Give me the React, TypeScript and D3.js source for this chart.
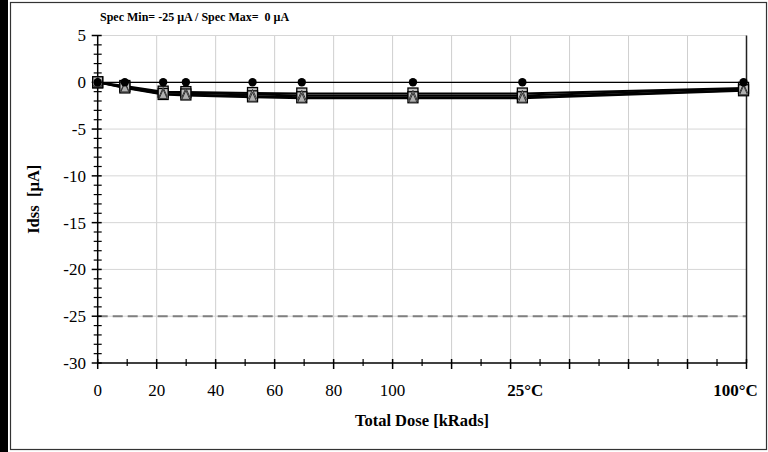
import React from "react";
import * as d3 from "d3";

const doses = [0, 9.2, 22.2, 29.9, 52.5, 69.2, 106.9, 144, 219];
const seriesCircle = [0, 0, 0, 0, 0, 0, 0, 0, 0];
const seriesSquareA = [0, -0.4, -1.0, -1.05, -1.15, -1.2, -1.2, -1.2, -0.6];
const seriesSquareB = [0, -0.55, -1.25, -1.3, -1.5, -1.6, -1.6, -1.6, -0.85];
const seriesTriA = [0, -0.5, -1.1, -1.15, -1.3, -1.4, -1.4, -1.4, -0.7];
const seriesTriB = [0, -0.6, -1.3, -1.4, -1.6, -1.7, -1.7, -1.7, -0.9];
const xTickLabels = ["0", "20", "40", "60", "80", "100"];
const xTickLabelValues = [0, 20, 40, 60, 80, 100];
const annealLabels = ["25°C", "100°C"];
const annealLabelValues = [145, 216.3];
const yTicks = [5, 0, -5, -10, -15, -20, -25, -30];
const specMin = -25;

const W = 768;
const H = 452;
const FONT = "Liberation Serif, Times New Roman, Times, serif";

export default function App() {
  const x = d3.scaleLinear().domain([0, 220]).range([97.7, 746.5]);
  const y = d3.scaleLinear().domain([-30, 5]).range([363, 35.5]);
  const line = d3
    .line<number>()
    .x((_, i) => x(doses[i]))
    .y((d) => y(d));

  const xMajor = d3.range(0, 221, 20);
  const xMinor = d3.range(10, 220, 20);
  const yMinor = d3.range(-30, 5.01, 1).filter((v) => v % 5 !== 0);

  const thickSeries = [seriesSquareA, seriesSquareB, seriesTriA, seriesTriB];
  const x0 = x(0);
  const yBase = y(-30);

  return (
    <svg
      width={W}
      height={H}
      style={{ position: "fixed", left: 0, top: 0, background: "#fff", fontFamily: FONT }}
    >
      <rect x={0} y={0} width={8} height={H} fill="#000" />
      <rect x={10.5} y={2.5} width={756} height={447} fill="none" stroke="#333" strokeWidth={1.2} />

      {/* gridlines */}
      {xMajor.slice(1, -1).map((v) => (
        <line key={"gx" + v} x1={x(v)} x2={x(v)} y1={y(5)} y2={yBase} stroke="#cfcfcf" strokeWidth={1} />
      ))}
      {yTicks.slice(0, -1).map((v) => (
        <line key={"gy" + v} x1={x0} x2={x(220)} y1={y(v)} y2={y(v)} stroke="#d6d6d6" strokeWidth={1} />
      ))}

      {/* spec min dashed */}
      <line
        x1={x0}
        x2={x(220)}
        y1={y(specMin)}
        y2={y(specMin)}
        stroke="#808080"
        strokeWidth={2}
        strokeDasharray="10,5"
      />

      {/* right border */}
      <line x1={x(220)} x2={x(220)} y1={y(5)} y2={yBase} stroke="#222" strokeWidth={1.5} />

      {/* axes */}
      <line x1={x0} x2={x0} y1={y(5)} y2={yBase} stroke="#000" strokeWidth={1.5} />
      <line x1={x0} x2={x(220)} y1={yBase} y2={yBase} stroke="#000" strokeWidth={1.5} />
      {yTicks.map((v) => (
        <g key={"yt" + v}>
          <line x1={x0 - 6} x2={x0 + 4} y1={y(v)} y2={y(v)} stroke="#000" strokeWidth={1.5} />
          <text x={86} y={y(v)} dy="0.35em" textAnchor="end" fontSize={17}>
            {v}
          </text>
        </g>
      ))}
      {yMinor.map((v) => (
        <line key={"ym" + v} x1={x0 - 4} x2={x0 + 4} y1={y(v)} y2={y(v)} stroke="#000" strokeWidth={1.2} />
      ))}
      {xMajor.map((v) => (
        <line key={"xt" + v} x1={x(v)} x2={x(v)} y1={yBase - 4} y2={yBase + 6} stroke="#000" strokeWidth={1.5} />
      ))}
      {xMinor.map((v) => (
        <line key={"xm" + v} x1={x(v)} x2={x(v)} y1={yBase - 4} y2={yBase + 3} stroke="#000" strokeWidth={1.2} />
      ))}
      {xTickLabels.map((t, i) => (
        <text key={"xl" + t} x={x(xTickLabelValues[i])} y={396} textAnchor="middle" fontSize={17}>
          {t}
        </text>
      ))}
      {annealLabels.map((t, i) => (
        <text
          key={"al" + t}
          x={x(annealLabelValues[i])}
          y={396}
          textAnchor="middle"
          fontSize={17}
          fontWeight="bold"
        >
          {t}
        </text>
      ))}

      {/* series lines */}
      {thickSeries.map((s, i) => (
        <path key={"l" + i} d={line(s) || ""} fill="none" stroke="#000" strokeWidth={2} />
      ))}
      <path d={line(seriesCircle) || ""} fill="none" stroke="#000" strokeWidth={1.2} />

      {/* markers */}
      {[seriesSquareA, seriesSquareB].map((s, si) =>
        s.map((v, i) => (
          <rect
            key={"sq" + si + "-" + i}
            x={x(doses[i]) - 5}
            y={y(v) - 5.5}
            width={10}
            height={11}
            fill="#c0c0c0"
            stroke="#000"
            strokeWidth={1.3}
          />
        ))
      )}
      {[seriesTriA, seriesTriB].map((s, si) =>
        s.map((v, i) => {
          const cx = x(doses[i]);
          const cy = y(v);
          return (
            <path
              key={"tr" + si + "-" + i}
              d={`M${cx},${cy - 5}L${cx + 4},${cy + 4}L${cx - 4},${cy + 4}Z`}
              fill="#b0b0b0"
              stroke="#333"
              strokeWidth={1}
            />
          );
        })
      )}
      {seriesCircle.map((v, i) => (
        <circle key={"c" + i} cx={x(doses[i])} cy={y(v)} r={4.2} fill="#000" />
      ))}

      {/* titles */}
      <text x={100} y={21} fontSize={12} fontWeight="bold" style={{ whiteSpace: "pre" }}>
        {"Spec Min= -25 µA / Spec Max=  0 µA"}
      </text>
      <text
        transform={`translate(39, ${(y(5) + yBase) / 2}) rotate(-90)`}
        textAnchor="middle"
        fontSize={16.5}
        fontWeight="bold"
        style={{ whiteSpace: "pre" }}
      >
        {"Idss  [µA]"}
      </text>
      <text x={422} y={426} textAnchor="middle" fontSize={16.5} fontWeight="bold">
        Total Dose [kRads]
      </text>
    </svg>
  );
}
